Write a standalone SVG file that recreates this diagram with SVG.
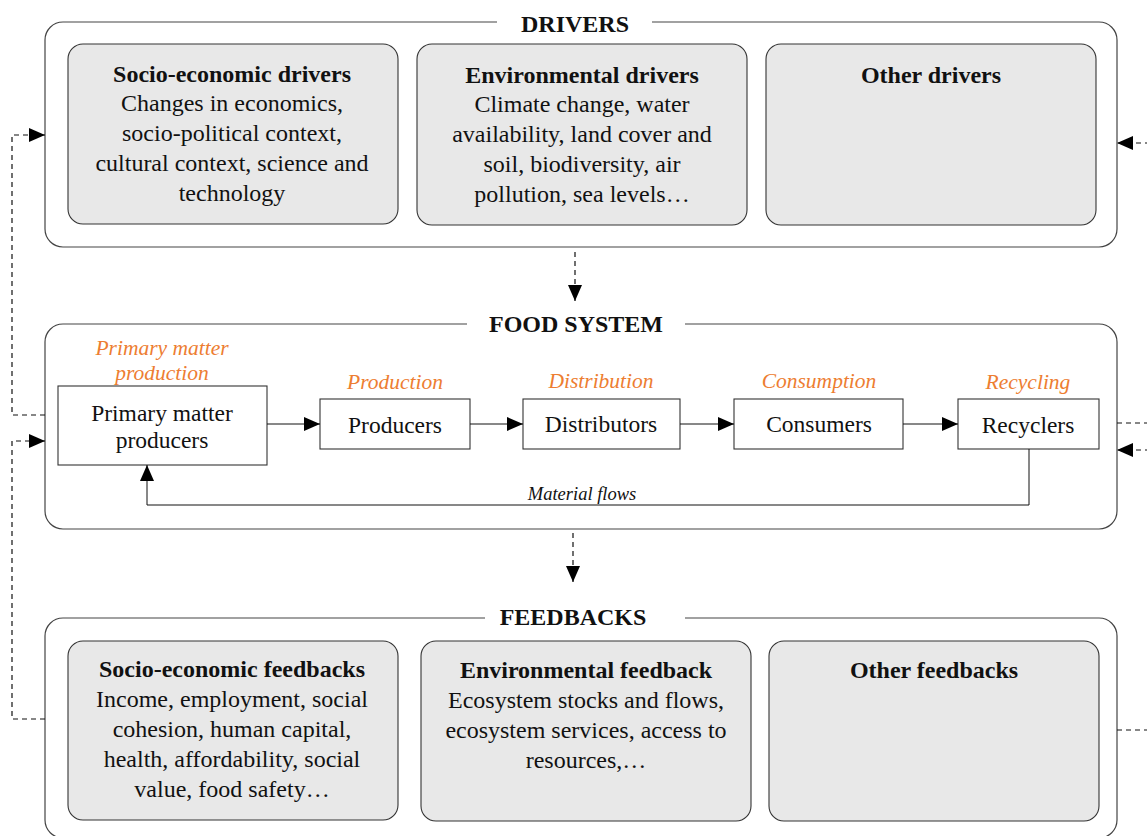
<svg xmlns="http://www.w3.org/2000/svg" width="1147" height="836" viewBox="0 0 1147 836">
<style>
text{font-family:"Liberation Serif","Times New Roman",serif;fill:#111;text-anchor:middle}
.outer{fill:#fff;stroke:#444;stroke-width:1.2}
.inner{fill:#e8e8e8;stroke:#333;stroke-width:1.1}
.node{fill:#fff;stroke:#333;stroke-width:1.1}
.title{font-size:24px;font-weight:bold}
.hd{font-size:24px;font-weight:bold}
.bd{font-size:24px}
.nt{font-size:23.5px}
.or{font-size:21.5px;font-style:italic;fill:#ED7D31}
.dash{fill:none;stroke:#111;stroke-width:1.2;stroke-dasharray:5 4}
.solid{fill:none;stroke:#111;stroke-width:1}
</style>
<defs>
<marker id="ahs" markerWidth="16" markerHeight="14" viewBox="0 0 16 14" refX="16" refY="7" orient="auto" markerUnits="userSpaceOnUse">
<path d="M0,0 L16,7 L0,14 z" fill="#000"/>
</marker>
</defs>

<g id="drivers">
<rect class="outer" x="45" y="22" width="1072" height="225" rx="18"/>
<rect x="497" y="14" width="155" height="18" fill="#fff"/>
<text class="title" x="575" y="32">DRIVERS</text>
</g>
<g id="socio-drivers">
<rect class="inner" x="68" y="44" width="330" height="180" rx="15"/>
<text class="hd" x="232" y="82">Socio-economic drivers</text>
<text class="bd" x="232" y="111">Changes in economics,</text>
<text class="bd" x="232" y="141">socio-political context,</text>
<text class="bd" x="232" y="171">cultural context, science and</text>
<text class="bd" x="232" y="201">technology</text>
</g>
<g id="env-drivers">
<rect class="inner" x="417" y="44" width="330" height="181" rx="15"/>
<text class="hd" x="582" y="83">Environmental drivers</text>
<text class="bd" x="582" y="112">Climate change, water</text>
<text class="bd" x="582" y="142">availability, land cover and</text>
<text class="bd" x="582" y="172">soil, biodiversity, air</text>
<text class="bd" x="582" y="202">pollution, sea levels…</text>
</g>
<g id="other-drivers">
<rect class="inner" x="766" y="44" width="330" height="181" rx="15"/>
<text class="hd" x="931" y="83">Other drivers</text>
</g>

<g id="food-system">
<rect class="outer" x="45" y="324" width="1072" height="205" rx="18"/>
<rect x="467" y="315" width="218" height="18" fill="#fff"/>
<text class="title" x="576" y="332">FOOD SYSTEM</text>
</g>
<g id="primary">
<text class="or" x="162" y="355">Primary matter</text>
<text class="or" x="162" y="380">production</text>
<rect class="node" x="58" y="386" width="209" height="79"/>
<text class="nt" x="162" y="421">Primary matter</text>
<text class="nt" x="162" y="448">producers</text>
</g>
<g id="producers">
<text class="or" x="395" y="389">Production</text>
<rect class="node" x="320" y="399" width="150" height="50"/>
<text class="nt" x="395" y="433">Producers</text>
</g>
<g id="distributors">
<text class="or" x="601" y="388">Distribution</text>
<rect class="node" x="523" y="399" width="157" height="50"/>
<text class="nt" x="601" y="432">Distributors</text>
</g>
<g id="consumers">
<text class="or" x="819" y="388">Consumption</text>
<rect class="node" x="734" y="399" width="169" height="50"/>
<text class="nt" x="819" y="432">Consumers</text>
</g>
<g id="recyclers">
<text class="or" x="1028" y="389">Recycling</text>
<rect class="node" x="958" y="399" width="141" height="50"/>
<text class="nt" x="1028" y="433">Recyclers</text>
</g>

<g id="feedbacks">
<rect class="outer" x="45" y="618" width="1072" height="220" rx="18"/>
<rect x="485" y="609" width="200" height="18" fill="#fff"/>
<text class="title" x="573" y="625">FEEDBACKS</text>
</g>
<g id="socio-feedbacks">
<rect class="inner" x="68" y="641" width="330" height="179" rx="15"/>
<text class="hd" x="232" y="677">Socio-economic feedbacks</text>
<text class="bd" x="232" y="707">Income, employment, social</text>
<text class="bd" x="232" y="737">cohesion, human capital,</text>
<text class="bd" x="232" y="767">health, affordability, social</text>
<text class="bd" x="232" y="797">value, food safety…</text>
</g>
<g id="env-feedback">
<rect class="inner" x="421" y="641" width="330" height="180" rx="15"/>
<text class="hd" x="586" y="678">Environmental feedback</text>
<text class="bd" x="586" y="708">Ecosystem stocks and flows,</text>
<text class="bd" x="586" y="738">ecosystem services, access to</text>
<text class="bd" x="586" y="768">resources,…</text>
</g>
<g id="other-feedbacks">
<rect class="inner" x="769" y="641" width="330" height="180" rx="15"/>
<text class="hd" x="934" y="678">Other feedbacks</text>
</g>

<g id="connectors">
<line class="dash" x1="575" y1="252" x2="575" y2="301" marker-end="url(#ahs)"/>
<line class="dash" x1="573" y1="533" x2="573" y2="582" marker-end="url(#ahs)"/>
<line class="solid" x1="267" y1="424" x2="320" y2="424" marker-end="url(#ahs)"/>
<line class="solid" x1="470" y1="424" x2="523" y2="424" marker-end="url(#ahs)"/>
<line class="solid" x1="680" y1="424" x2="734" y2="424" marker-end="url(#ahs)"/>
<line class="solid" x1="903" y1="424" x2="958" y2="424" marker-end="url(#ahs)"/>
<polyline class="solid" points="1029,449 1029,505 147,505 147,465" marker-end="url(#ahs)"/>
<text x="582" y="500" font-size="18.5" font-style="italic">Material flows</text>
<polyline class="dash" points="45,415 12,415 12,135 45,135" marker-end="url(#ahs)"/>
<polyline class="dash" points="45,719 12,719 12,441 45,441" marker-end="url(#ahs)"/>
<line class="dash" x1="1150" y1="143" x2="1117" y2="143" marker-end="url(#ahs)"/>
<line class="dash" x1="1117" y1="423" x2="1150" y2="423"/>
<line class="dash" x1="1150" y1="450" x2="1117" y2="450" marker-end="url(#ahs)"/>
<line class="dash" x1="1117" y1="730" x2="1150" y2="730"/>
</g>
</svg>
